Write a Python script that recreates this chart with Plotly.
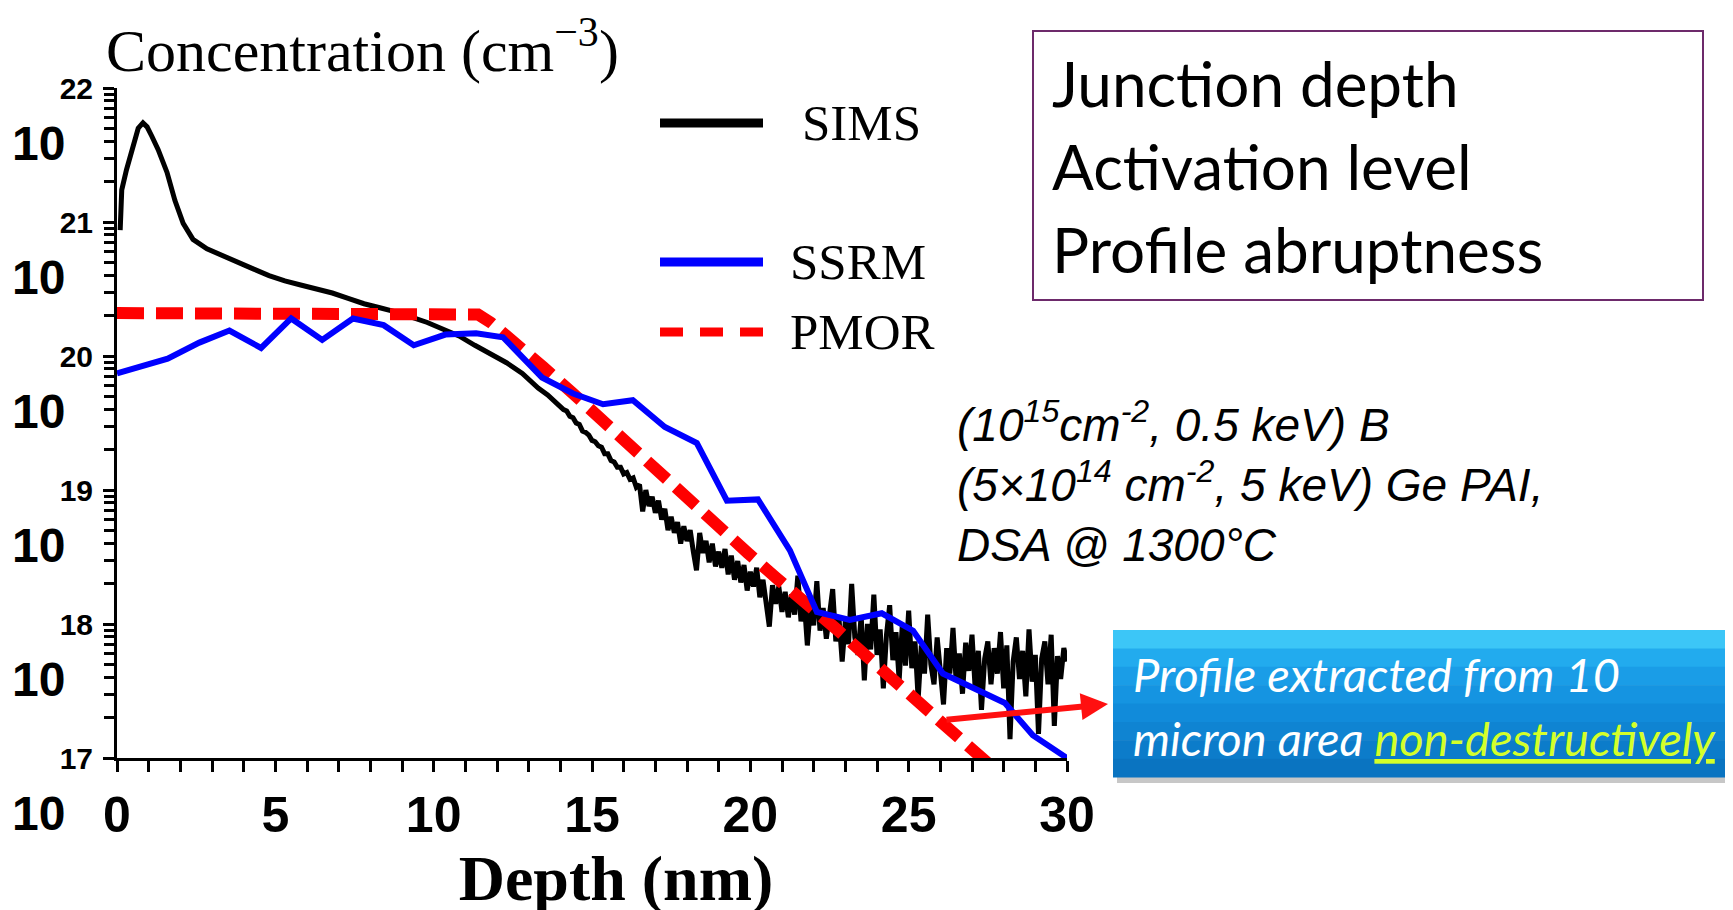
import plotly.graph_objects as go

W, H = 1733, 910
OFF = 8  # page body margin: the figure is drawn 8 px right/down of the window corner
# wanted plot-area edges, in window pixels
WL, WR, WT, WB = 117, 1067, 88, 758
L, R, T, B = WL - OFF, WR - OFF, WT - OFF, WB - OFF  # in figure pixels


def px(xpix):
    """window x pixel -> paper x"""
    return (xpix - WL) / (WR - WL)


def py(ypix):
    """window y pixel -> paper y"""
    return 1 - (ypix - WT) / (WB - WT)


# ---------------- data (log10 of concentration) ----------------
sims_depth_smooth = [0.10, 0.12, 0.15, 0.30, 0.50, 0.67, 0.82, 0.95, 1.10, 1.30, 1.58,
                     1.83, 2.09, 2.40, 2.84, 3.30, 3.80, 4.30, 4.80, 5.30, 5.80, 6.30,
                     6.80, 7.30, 7.80, 8.30, 8.80, 9.30, 9.80, 10.30, 10.80, 11.30,
                     11.80, 12.30, 12.80, 13.30, 13.60, 14.00]
sims_log_smooth = [20.94, 21.10, 21.24, 21.39, 21.56, 21.70, 21.74, 21.71, 21.64, 21.54, 21.37,
                   21.16, 20.99, 20.87, 20.80, 20.75, 20.70, 20.65, 20.60, 20.56, 20.53, 20.50,
                   20.47, 20.43, 20.39, 20.36, 20.33, 20.29, 20.25, 20.20, 20.15, 20.08,
                   20.02, 19.95, 19.87, 19.76, 19.71, 19.62]
# noisy tail sampled every 0.1 nm from 14.1 to 30.0 nm
sims_depth_noisy = [round(14.1 + 0.1 * i, 1) for i in range(160)]
sims_log_noisy = [
    19.60, 19.59, 19.55, 19.54, 19.50, 19.49, 19.44, 19.43, 19.41, 19.37,
    19.36, 19.33, 19.32, 19.27, 19.27, 19.22, 19.21, 19.17, 19.17, 19.12,
    19.13, 19.08, 19.09, 19.02, 19.04, 18.84, 19.00, 18.88, 18.95, 18.83,
    18.92, 18.78, 18.86, 18.70, 18.80, 18.68, 18.76, 18.60, 18.73, 18.62,
    18.70, 18.54, 18.40, 18.68, 18.53, 18.62, 18.46, 18.60, 18.43, 18.54,
    18.42, 18.56, 18.37, 18.51, 18.33, 18.47, 18.31, 18.44, 18.25, 18.39,
    18.28, 18.42, 18.20, 18.33, 18.17, 17.98, 18.29, 18.15, 18.28, 18.09,
    18.24, 18.05, 18.22, 18.07, 18.36, 18.02, 18.18, 17.84, 18.14, 17.99,
    18.32, 17.95, 18.12, 17.89, 18.07, 18.26, 17.87, 18.04, 17.72, 18.02,
    17.85, 18.30, 17.90, 17.77, 18.06, 17.58, 18.00, 17.81, 18.22, 17.77,
    17.96, 17.52, 17.92, 18.14, 17.73, 17.94, 17.58, 18.00, 17.69, 18.10,
    17.67, 17.87, 17.44, 17.84, 17.63, 18.07, 17.70, 17.55, 17.90, 17.61,
    17.40, 17.82, 17.63, 17.97, 17.57, 17.78, 17.48, 17.86, 17.65, 17.92,
    17.52, 17.80, 17.36, 17.74, 17.87, 17.55, 17.82, 17.63, 17.94, 17.52,
    17.84, 17.14, 17.72, 17.90, 17.59, 17.80, 17.46, 17.96, 17.57, 17.77,
    17.18, 17.74, 17.87, 17.55, 17.92, 17.24, 17.76, 17.59, 17.82, 17.72,
]

ssrm_depth = [0.0, 1.6, 2.6, 3.55, 4.55, 5.5, 6.48, 7.45, 8.42, 9.37, 10.37, 11.34, 12.19,
              13.42, 14.4, 15.35, 16.29, 17.3, 18.31, 19.26, 20.24, 21.25, 22.1, 23.14,
              24.15, 25.14, 26.08, 28.04, 28.92, 30.0]
ssrm_log = [19.87, 19.98, 20.10, 20.19, 20.06, 20.28, 20.12, 20.28, 20.23, 20.08, 20.16, 20.17,
            20.14, 19.84, 19.72, 19.64, 19.67, 19.47, 19.35, 18.92, 18.93, 18.55, 18.09, 18.03,
            18.08, 17.95, 17.63, 17.41, 17.17, 17.00]

pmor_depth = [0.0, 11.0, 11.4, 11.8, 12.5, 13.45, 14.4, 15.31, 16.2, 17.15, 18.03, 18.95,
              19.92, 20.84, 21.79, 22.73, 23.62, 24.57, 25.51, 26.4, 27.34, 27.7]
pmor_log = [20.32, 20.32, 20.31, 20.25, 20.12, 19.92, 19.72, 19.52, 19.32, 19.13, 18.93, 18.74,
            18.53, 18.34, 18.16, 17.96, 17.77, 17.57, 17.36, 17.16, 16.99, 16.92]

x_tick_vals = [0, 5, 10, 15, 20, 25, 30]
x_tick_text = ["0", "5", "10", "15", "20", "25", "30"]
y_exponents = [17, 18, 19, 20, 21, 22]
y_tick_text = ["17", "18", "19", "20", "21", "22"]
series_names = ["SIMS", "SSRM", "PMOR"]

# ---------------- figure ----------------
sims_x = sims_depth_smooth + sims_depth_noisy
sims_y = [10.0 ** v for v in sims_log_smooth + sims_log_noisy]

fig = go.Figure()
fig.add_trace(go.Scatter(x=sims_x, y=sims_y, mode="lines", name=series_names[0],
                         line=dict(color="black", width=5), showlegend=False))
fig.add_trace(go.Scatter(x=pmor_depth, y=[10.0 ** v for v in pmor_log], mode="lines",
                         name=series_names[2], showlegend=False,
                         line=dict(color="#ff0000", width=12, dash="27px,12px")))
fig.add_trace(go.Scatter(x=ssrm_depth, y=[10.0 ** v for v in ssrm_log], mode="lines",
                         name=series_names[1], showlegend=False,
                         line=dict(color="#0000ff", width=6)))

minor_y = [float(m) * 10.0 ** e for e in y_exponents[:-1] for m in range(2, 10)]

fig.update_xaxes(range=[0, 30], automargin=False, showline=True, linecolor="black", linewidth=3,
                 showgrid=False, zeroline=False, ticks="outside", ticklen=11, tickwidth=2.5,
                 tickcolor="black", tickvals=x_tick_vals, ticktext=x_tick_text,
                 tickfont=dict(family="Liberation Sans", size=50, color="black", weight="bold"),
                 ticklabelstandoff=0,
                 minor=dict(dtick=1, ticks="outside", ticklen=11, tickwidth=2.5, tickcolor="black"),
                 title=dict(text="&nbsp;&nbsp;&nbsp;<b>Depth (nm)</b>", standoff=0,
                            font=dict(family="Liberation Serif", size=64, color="black")))
fig.update_yaxes(type="log", range=[17, 22], automargin=False, showline=True, linecolor="black",
                 linewidth=3, showgrid=False, zeroline=False, ticks="outside", ticklen=11,
                 tickwidth=2.5, tickcolor="black", tickvals=[10.0 ** e for e in y_exponents],
                 ticktext=y_tick_text,
                 tickfont=dict(family="Liberation Sans", size=30, color="black", weight="bold"),
                 ticklabelstandoff=4,
                 minor=dict(tickvals=minor_y, ticks="outside", ticklen=10, tickwidth=2.5,
                            tickcolor="black"))

annotations = []
# base "10" of each power-of-ten label
for e in y_exponents:
    annotations.append(dict(text="<b>10</b>", xref="paper", yref="y", x=px(38), y=e,
                            yshift=-55, xanchor="center", yanchor="middle", showarrow=False,
                            font=dict(family="Liberation Sans", size=48, color="black")))
# y-axis title at top
annotations.append(dict(text="Concentration (cm<sup>−3</sup>)", xref="paper", yref="paper",
                        x=px(104), y=py(47), xanchor="left", yanchor="middle", showarrow=False,
                        font=dict(family="Liberation Serif", size=60, color="black")))
# legend (hand placed, uneven spacing as in original)
legend_rows = [(series_names[0], 123, 800, "black", "solid"),
               (series_names[1], 262, 788, "#0000ff", "solid"),
               (series_names[2], 332, 788, "#ff0000", "23px,17px")]
shapes = []
for name, ypix, xtxt, col, dash in legend_rows:
    shapes.append(dict(type="line", xref="paper", yref="paper", x0=px(660), x1=px(763),
                       y0=py(ypix), y1=py(ypix), line=dict(color=col, width=9, dash=dash)))
    annotations.append(dict(text=name, xref="paper", yref="paper", x=px(xtxt), y=py(ypix),
                            xanchor="left", yanchor="middle", showarrow=False,
                            font=dict(family="Liberation Serif", size=51, color="black")))

# right box with bullet text
shapes.append(dict(type="rect", xref="paper", yref="paper", x0=px(1033), x1=px(1703),
                   y0=py(300), y1=py(31), line=dict(color="#6d2a6b", width=2),
                   fillcolor="rgba(0,0,0,0)"))
for txt, ypix in [("Junction depth", 83), ("Activation level", 166), ("Profile abruptness", 249)]:
    annotations.append(dict(text=txt, xref="paper", yref="paper", x=px(1050), y=py(ypix),
                            xanchor="left", yanchor="middle", showarrow=False,
                            font=dict(family="Lato", size=62, color="black")))

# process conditions
annotations.append(dict(
    text="<i>(10<sup>15</sup>cm<sup>-2</sup>, 0.5 keV) B<br>"
         "(5×10<sup>14</sup> cm<sup>-2</sup>, 5 keV) Ge PAI,<br>"
         "DSA @ 1300°C</i>",
    xref="paper", yref="paper", x=px(955), y=py(482), xanchor="left", yanchor="middle",
    align="left", showarrow=False,
    font=dict(family="Liberation Sans", size=46, color="black")))

# blue call-out box (shadow + vertical gradient strips)
shapes.append(dict(type="rect", xref="paper", yref="paper", x0=px(1117), x1=px(1760),
                   y0=py(783), y1=py(636), line=dict(width=0), fillcolor="rgba(0,0,0,0.22)"))
grad = ["#3cc6f7", "#22abee", "#1a9de7", "#1594e1", "#118bda", "#0f84d2", "#0c7cca", "#0a74c1"]
top, bot = 630, 777
step = (bot - top) / len(grad)
for i, c in enumerate(grad):
    shapes.append(dict(type="rect", xref="paper", yref="paper", x0=px(1113), x1=px(1760),
                       y0=py(top + (i + 1) * step + 0.5), y1=py(top + i * step),
                       line=dict(width=0), fillcolor=c))
annotations.append(dict(text="<i>Profile extracted from 10</i>", xref="paper", yref="paper",
                        x=px(1131), y=py(674), xanchor="left", yanchor="middle", showarrow=False,
                        font=dict(family="Lato", size=47, color="white")))
annotations.append(dict(text="<i>micron area <span style='color:#d4ff2a'><u>non-destructively</u></span></i>",
                        xref="paper", yref="paper",
                        x=px(1131), y=py(738), xanchor="left", yanchor="middle", showarrow=False,
                        font=dict(family="Lato", size=47, color="white")))
# red arrow
annotations.append(dict(text="", xref="paper", yref="paper", x=px(1108), y=py(704),
                        ax=-163, ay=16, showarrow=True, arrowhead=2, arrowsize=0.9,
                        arrowwidth=6, arrowcolor="#ff1010"))

fig.update_layout(width=W, height=H, margin=dict(l=L, r=W - R, t=T, b=H - B),
                  paper_bgcolor="white", plot_bgcolor="white",
                  annotations=annotations, shapes=shapes, showlegend=False)

fig.write_html("out.html")
